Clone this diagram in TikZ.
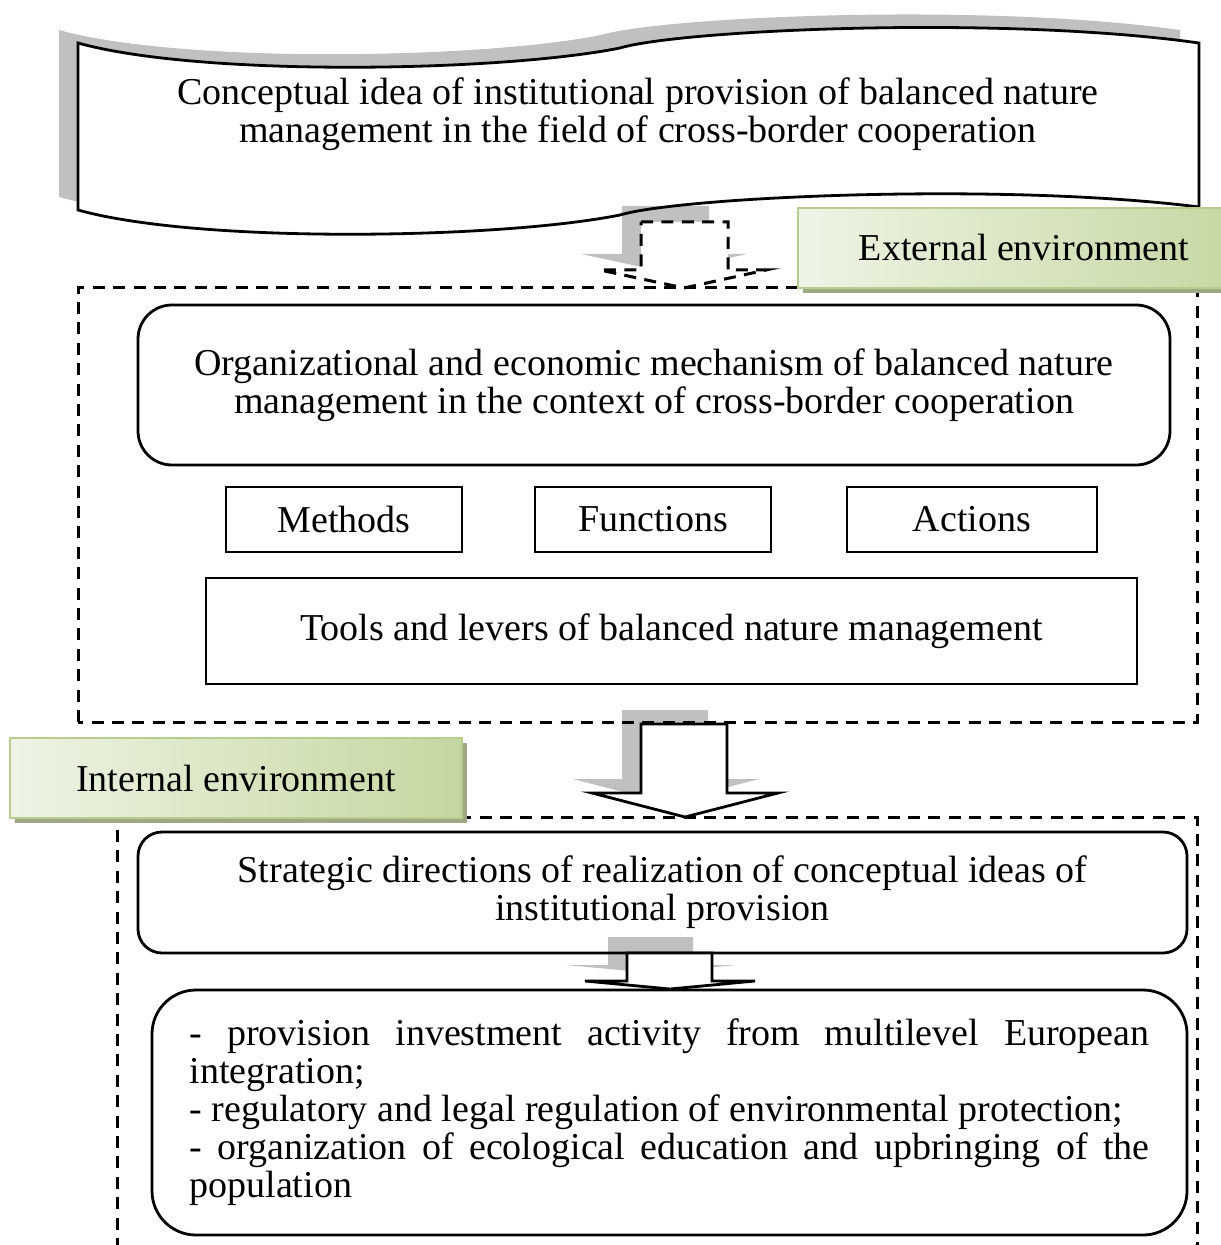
\documentclass[tikz,border=0pt]{standalone}
\usepackage{fontspec}
\setmainfont{Liberation Serif}
\usetikzlibrary{shadows}

\definecolor{shadowgray}{RGB}{192,192,192}
\definecolor{greenlight}{RGB}{238,244,229}
\definecolor{greendark}{RGB}{197,215,160}
\definecolor{greenedge}{RGB}{182,205,142}
\definecolor{greenshadow}{RGB}{158,168,132}

% outline of the wavy document at the top
\newcommand{\docwave}{(78,43) .. controls (200,77) and (500,72) .. (620,48)
  .. controls (680,30) and (1000,15) .. (1199,43) -- (1199,207)
  .. controls (1000,182) and (680,197) .. (620,215)
  .. controls (500,239) and (200,244) .. (78,210) -- cycle}

\tikzset{
  box/.style={draw, line width=1.4pt, inner sep=0pt},
  roundbox/.style={box, rounded corners=#1},
  frame/.style={line width=1.5pt, dash pattern=on 6pt off 4.2pt},
  envlabel/.style={draw=greenedge, line width=0.6pt, left color=greenlight, right color=greendark,
    minimum height=40pt, drop shadow={shadow xshift=2.5pt, shadow yshift=-2.5pt, fill=greenshadow, opacity=1}}
}

\begin{document}
\hyphenpenalty=10000
\begin{tikzpicture}[x=0.5pt, y=-0.5pt, line width=1.4pt,
    every node/.style={font=\fontsize{19}{19}\selectfont, align=center}]
  \useasboundingbox (0,0) rectangle (1220,1245);

  \fill[shadowgray, shift={(-19,-13)}] \docwave;
  \fill[white] \docwave;
  \fill[shadowgray, shift={(-19,-16)}] (641,222) -- (728,222) -- (728,270) -- (766,270) -- (684,288) -- (600,270) -- (641,270) -- cycle;
  \draw \docwave;
  \node (concept) at (638,114) {Conceptual idea of institutional provision of balanced nature\\ management in the field of cross-border cooperation};

  \filldraw[fill=white, frame] (641,222) -- (728,222) -- (728,270) -- (766,270) -- (684,288) -- (600,270) -- (641,270) -- cycle;

  \fill[shadowgray, shift={(-19,-14)}] (641,724) -- (727,724) -- (727,793) -- (778,793) -- (685,817) -- (592,793) -- (641,793) -- cycle;
  \draw[frame] (78,722) rectangle (1197,288);
  \node[envlabel, minimum width=226pt] (external) at (1024,248) {External environment};

  \node[roundbox=17pt, minimum width=516pt, minimum height=80pt] (mechanism) at (654,385)
    {Organizational and economic mechanism of balanced nature\\ management in the context of cross-border cooperation};
  \node[box, minimum width=118pt, minimum height=32.5pt] (methods) at (344,519.5) {Methods};
  \node[box, minimum width=118pt, minimum height=32.5pt] (functions) at (653,519.5) {Functions};
  \node[box, minimum width=125pt, minimum height=32.5pt] (actions) at (972,519.5) {Actions};
  \node[box, minimum width=465.5pt, minimum height=53pt] (tools) at (671.5,631) {Tools and levers of balanced nature management};

  \draw[frame] (117,1250) -- (117,817) -- (1197,817) -- (1197,1250);
  \filldraw[fill=white] (641,724) -- (727,724) -- (727,793) -- (778,793) -- (685,817) -- (592,793) -- (641,793) -- cycle;
  \node[envlabel, minimum width=226pt] (internal) at (236,778) {Internal environment};

  \fill[shadowgray, shift={(-19,-16)}] (627,953) -- (712,953) -- (712,981) -- (755,981) -- (670,989) -- (585,981) -- (627,981) -- cycle;
  \node[roundbox=12pt, minimum width=524.5pt, minimum height=60.5pt] (strategic) at (662.5,892.5)
    {Strategic directions of realization of conceptual ideas of\\ institutional provision};
  \filldraw[fill=white] (627,953) -- (712,953) -- (712,981) -- (755,981) -- (670,989) -- (585,981) -- (627,981) -- cycle;

  \node[roundbox=22pt, minimum width=517.5pt, minimum height=122.5pt, text width=480pt, align=justify] (measures) at (669.5,1112.5)
    {- provision investment activity from multilevel European\linebreak integration;\par
     - regulatory and legal regulation of environmental protection;\par
     - organization of ecological education and upbringing of the\linebreak population};
\end{tikzpicture}
\end{document}
